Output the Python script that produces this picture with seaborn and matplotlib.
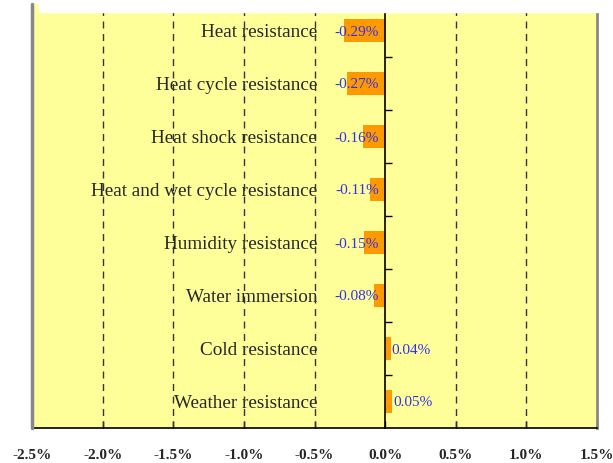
import matplotlib
matplotlib.use("Agg")
import matplotlib.pyplot as plt
from matplotlib.patches import Rectangle
import seaborn as sns
import numpy as np

categories = ["Heat resistance", "Heat cycle resistance", "Heat shock resistance",
              "Heat and wet cycle resistance", "Humidity resistance", "Water immersion",
              "Cold resistance", "Weather resistance"]
values = [-0.29, -0.27, -0.16, -0.11, -0.15, -0.08, 0.04, 0.05]
xticks = [-2.5, -2.0, -1.5, -1.0, -0.5, 0.0, 0.5, 1.0, 1.5]

sns.set_style("white")
plt.rcParams['font.family'] = ['Liberation Serif', 'DejaVu Serif']

W, H = 613, 463
fig = plt.figure(figsize=(W / 100, H / 100), dpi=100)
ax = fig.add_axes([32 / W, 35 / H, (597 - 32) / W, (428 - 4) / H])
ax.set_facecolor("#FFFF99")

sns.barplot(x=values, y=categories, orient="h", color="#FF9900", width=0.42,
            saturation=1, linewidth=0, ax=ax, zorder=3)

ax.set_xlim(-2.5, 1.5)
ax.set_ylim(7.5, -0.5)

# dashed vertical grid
for xv in xticks[1:-1]:
    if xv != 0:
        ax.axvline(xv, color="#333333", lw=1, ls=(0, (5, 4)), zorder=1)

# spines
ax.spines['top'].set_visible(False)
ax.spines['right'].set_color("#888888")
ax.spines['right'].set_linewidth(2)
ax.spines['bottom'].set_color("black")
ax.spines['bottom'].set_linewidth(1.2)
ax.spines['left'].set_position(('data', 0))
ax.spines['left'].set_color("black")
ax.spines['left'].set_linewidth(1.2)
ax.spines['left'].set_zorder(4)
ax.axvline(-2.5, color="#888888", lw=2.5, clip_on=False, zorder=5)

ax.set_xticks(xticks)
ax.set_xticklabels([f"{v:.1f}%" for v in xticks], fontweight="bold", fontsize=11)
ax.tick_params(axis='x', bottom=True, direction='in', length=5, width=1, color="black", pad=15)

ax.set_yticks(range(len(categories)))
ax.set_yticklabels(categories, fontsize=13.8)
ax.tick_params(axis='y', which='major', left=True, length=0, pad=49)
ax.set_yticks(np.arange(0.5, len(categories) - 1, 1.0), minor=True)
ax.tick_params(axis='y', which='minor', left=True, direction='in', length=5, width=1, color="black")
ax.set_xlabel("")
ax.set_ylabel("")

for i, v in enumerate(values):
    if v < 0:
        ax.annotate(f"{v:.2f}%", xy=(0, i), xytext=(-6, 0), textcoords="offset pixels",
                    ha="right", va="center_baseline", color="#3030F0", fontsize=11, zorder=6)
    else:
        ax.annotate(f"{v:.2f}%", xy=(v, i), xytext=(1, 0), textcoords="offset pixels",
                    ha="left", va="center_baseline", color="#3030F0", fontsize=11, zorder=6)

# white strip over the top edge of the plot area
fig.patches.append(Rectangle((39 / W, (H - 12) / H), (600 - 39) / W, 12 / H,
                             transform=fig.transFigure, color="white", zorder=10))

fig.savefig("out.png", dpi=100, facecolor="white")
